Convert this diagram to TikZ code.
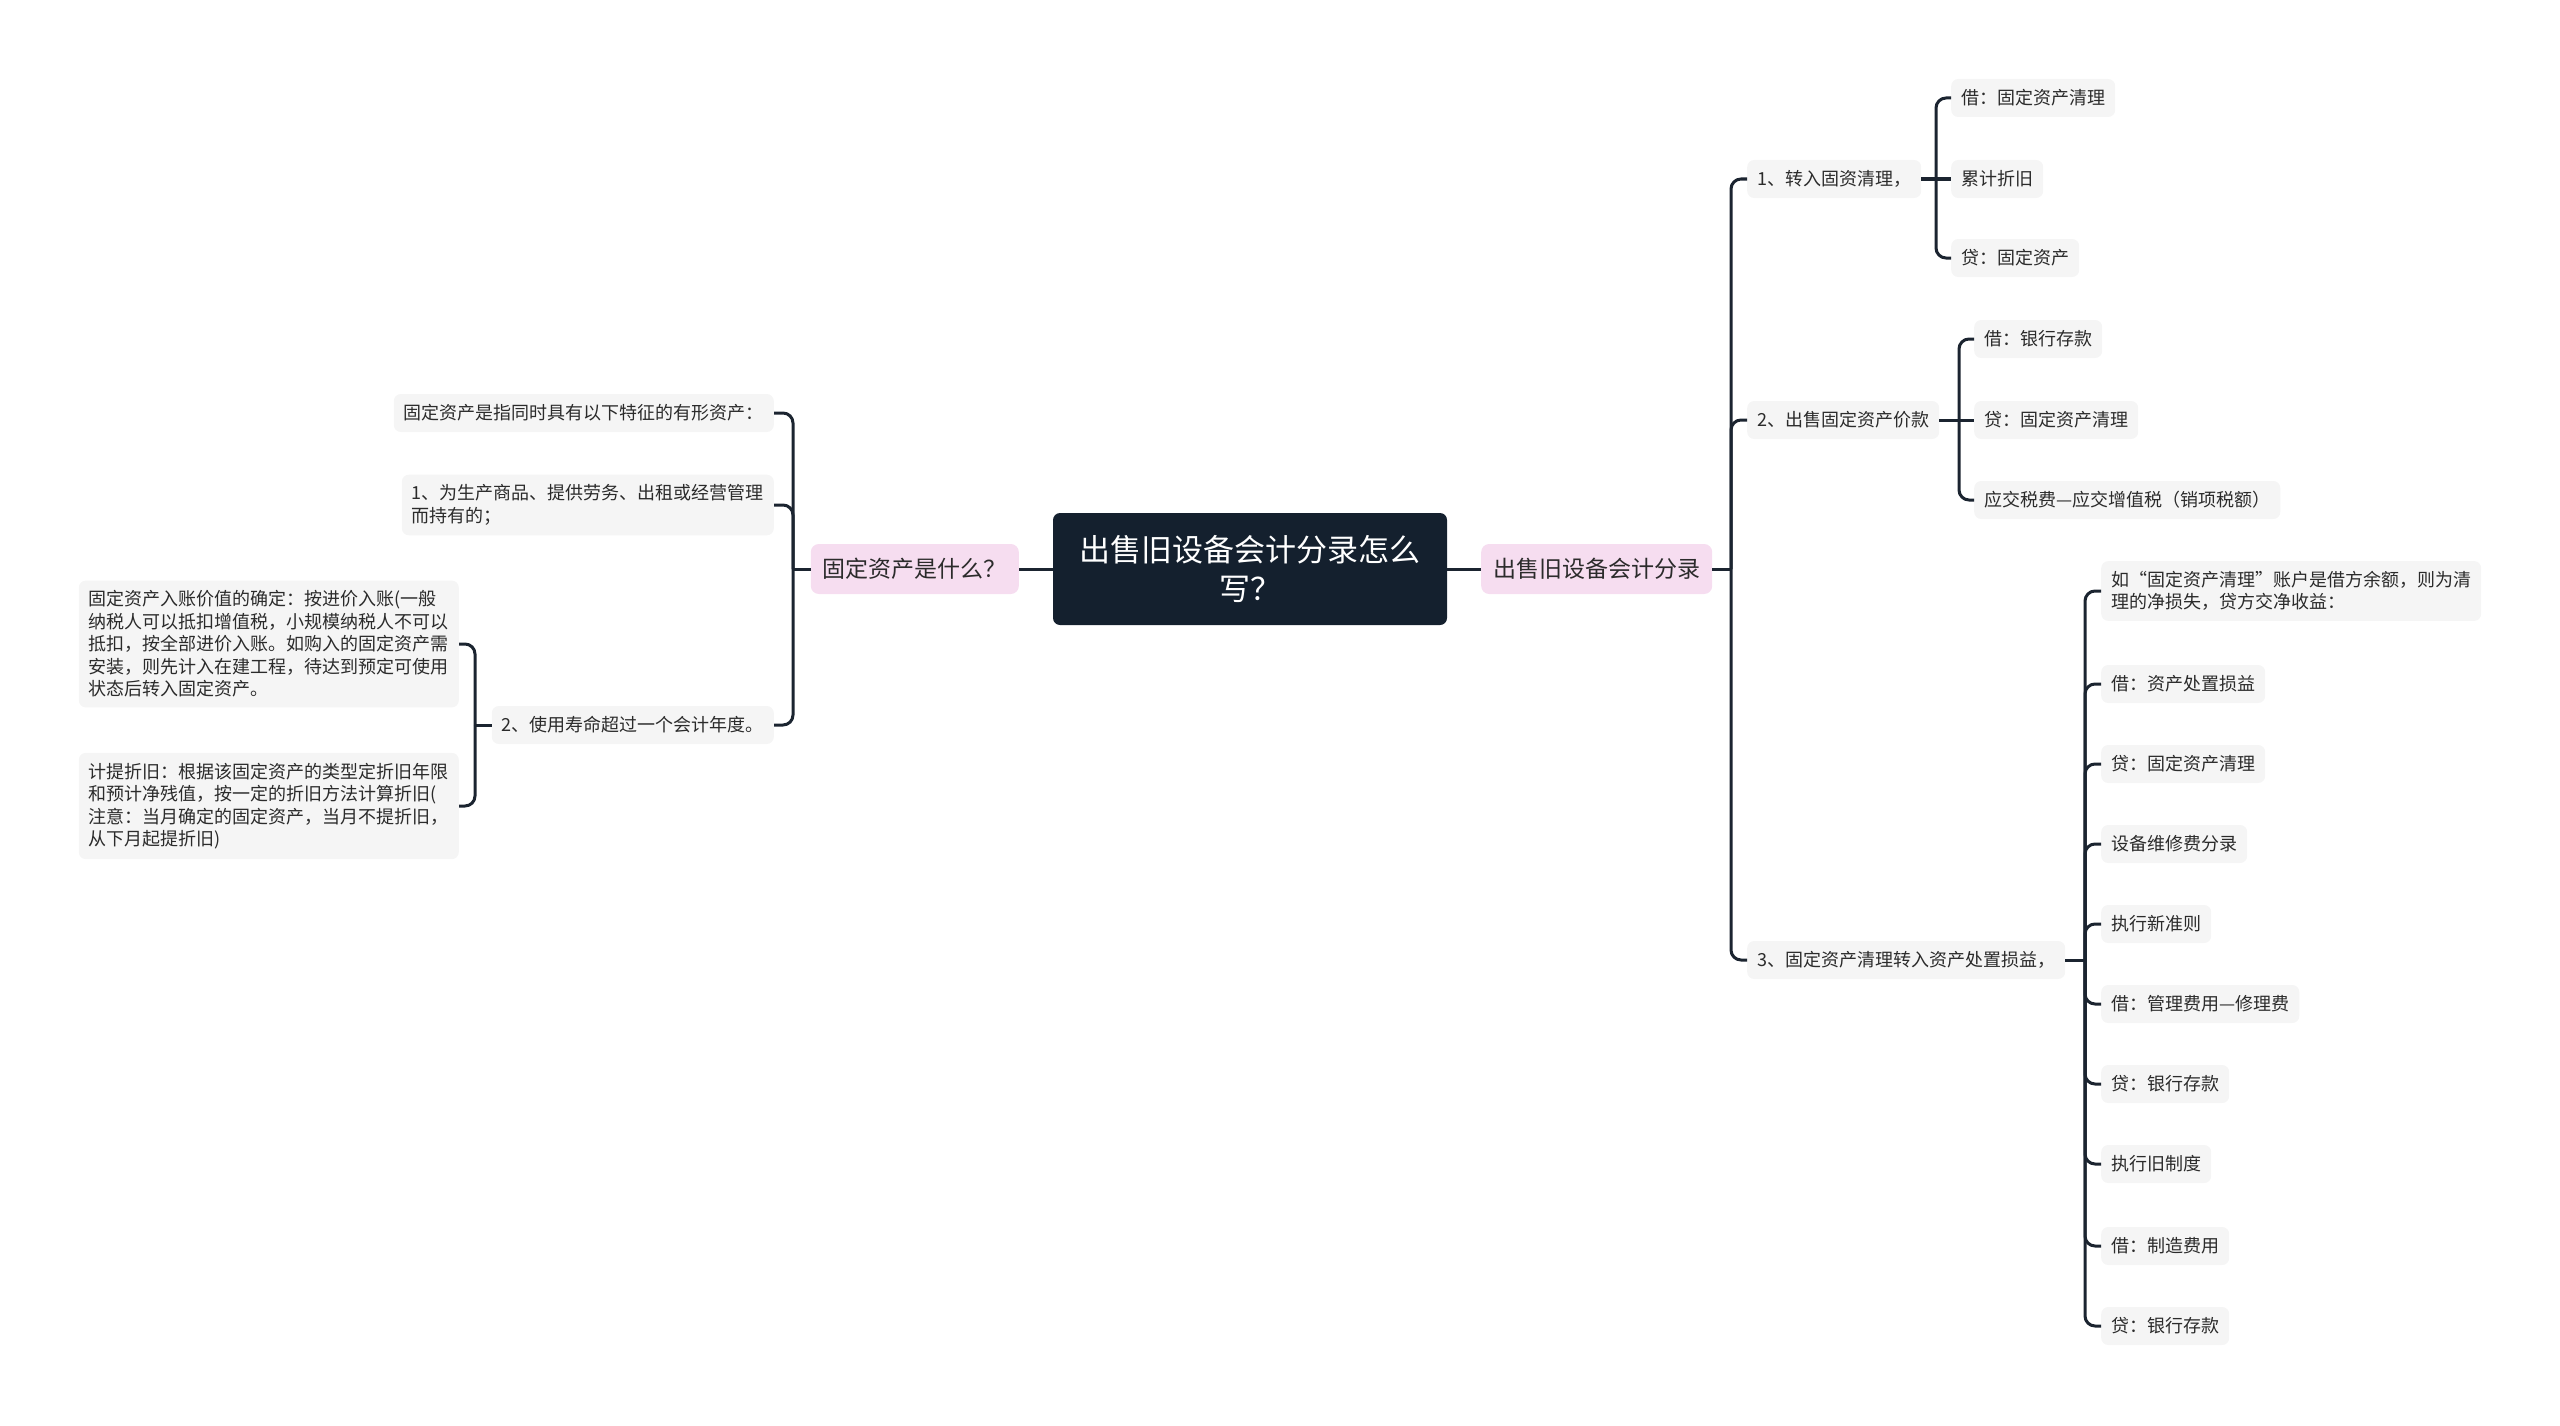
\documentclass[tikz,border=0pt]{standalone}
\usepackage{fontspec}
\setmainfont{Noto Sans CJK SC}
\definecolor{linec}{HTML}{1B2430}
\definecolor{rootc}{HTML}{14202E}
\definecolor{pinkc}{HTML}{F6DDF0}
\definecolor{leafc}{HTML}{F5F5F5}
\definecolor{txt}{HTML}{2B2B2B}
\begin{document}
\begin{tikzpicture}[x=1pt,y=-1pt,
  leaf/.style={fill=leafc, rounded corners=7pt, inner xsep=10pt, inner ysep=10pt, minimum height=38pt, align=left, text=txt, font=\fontsize{18}{22.5}\selectfont},
  topic/.style={fill=pinkc, rounded corners=8pt, inner xsep=12pt, minimum height=50pt, text=txt, font=\fontsize{23}{27}\selectfont},
  rootbox/.style={fill=rootc, rounded corners=7pt, minimum width=394pt, minimum height=112pt, align=center, text=white, font=\fontsize{31}{39}\selectfont},
  conn/.style={draw=linec, line width=3pt, rounded corners=10pt}]
\useasboundingbox (0,0) rectangle (2560,1426);

% central and main topics
\node[rootbox] (root) at (1250,569) {出售旧设备会计分录怎么\\写？};
\node[topic, anchor=east] (L) at (1019,569) {固定资产是什么？};
\node[topic, anchor=west] (R) at (1481,569) {出售旧设备会计分录};

% left side
\node[leaf, anchor=east] (l1) at (774,413) {固定资产是指同时具有以下特征的有形资产：};
\node[leaf, anchor=east] (l2) at (774,505) {1、为生产商品、提供劳务、出租或经营管理\\而持有的；};
\node[leaf, anchor=east] (l3) at (774,725) {2、使用寿命超过一个会计年度。};
\node[leaf, anchor=east] (l31) at (459,644) {固定资产入账价值的确定：按进价入账(一般\\纳税人可以抵扣增值税，小规模纳税人不可以\\抵扣，按全部进价入账。如购入的固定资产需\\安装，则先计入在建工程，待达到预定可使用\\状态后转入固定资产。};
\node[leaf, anchor=east] (l32) at (459,806) {计提折旧：根据该固定资产的类型定折旧年限\\和预计净残值，按一定的折旧方法计算折旧(\\注意：当月确定的固定资产，当月不提折旧，\\从下月起提折旧)};

% right side
\node[leaf, anchor=west] (r1) at (1747,179) {1、转入固资清理，};
\node[leaf, anchor=west] (r2) at (1747,420) {2、出售固定资产价款};
\node[leaf, anchor=west] (r3) at (1747,960) {3、固定资产清理转入资产处置损益，};

\node[leaf, anchor=west] (r11) at (1951,98) {借：固定资产清理};
\node[leaf, anchor=west] (r12) at (1951,179) {累计折旧};
\node[leaf, anchor=west] (r13) at (1951,258) {贷：固定资产};

\node[leaf, anchor=west] (r21) at (1974,339) {借：银行存款};
\node[leaf, anchor=west] (r22) at (1974,420) {贷：固定资产清理};
\node[leaf, anchor=west] (r23) at (1974,500) {应交税费—应交增值税（销项税额）};

\node[leaf, anchor=west] (r31) at (2101,591) {如“固定资产清理”账户是借方余额，则为清\\理的净损失，贷方交净收益：};
\node[leaf, anchor=west] (r32) at (2101,684) {借：资产处置损益};
\node[leaf, anchor=west] (r33) at (2101,764) {贷：固定资产清理};
\node[leaf, anchor=west] (r34) at (2101,844) {设备维修费分录};
\node[leaf, anchor=west] (r35) at (2101,924) {执行新准则};
\node[leaf, anchor=west] (r36) at (2101,1004) {借：管理费用—修理费};
\node[leaf, anchor=west] (r37) at (2101,1084) {贷：银行存款};
\node[leaf, anchor=west] (r38) at (2101,1164) {执行旧制度};
\node[leaf, anchor=west] (r39) at (2101,1246) {借：制造费用};
\node[leaf, anchor=west] (r310) at (2101,1326) {贷：银行存款};

% bracket junctions
\coordinate (bL) at (793,569);
\coordinate (bL3) at (475,725);
\coordinate (bR) at (1731,569);
\coordinate (b1) at (1936,179);
\coordinate (b2) at (1959,420);
\coordinate (b3) at (2085,960);

% connectors
\draw[conn] (root.west) -- (L.east);
\draw[conn] (root.east) -- (R.west);

\draw[conn] (L.west) -- (bL);
\foreach \c in {l1,l2,l3} \draw[conn] (bL) |- (\c.east);
\draw[conn] (l3.west) -- (bL3);
\foreach \c in {l31,l32} \draw[conn] (bL3) |- (\c.east);

\draw[conn] (R.east) -- (bR);
\foreach \c in {r1,r2,r3} \draw[conn] (bR) |- (\c.west);

\draw[conn] (r1.east) -- (r12.west);
\foreach \c in {r11,r13} \draw[conn] (b1) |- (\c.west);

\draw[conn] (r2.east) -- (r22.west);
\foreach \c in {r21,r23} \draw[conn] (b2) |- (\c.west);

\draw[conn] (r3.east) -- (b3);
\foreach \c in {r31,r32,r33,r34,r35,r36,r37,r38,r39,r310} \draw[conn] (b3) |- (\c.west);
\end{tikzpicture}
\end{document}
